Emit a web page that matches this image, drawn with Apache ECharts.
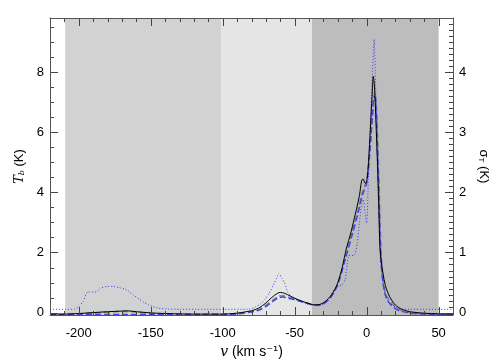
<!DOCTYPE html>
<html>
<head>
<meta charset="utf-8">
<script src="https://cdn.jsdelivr.net/npm/echarts@6/dist/echarts.min.js"></script>
<style>
html, body { margin: 0; padding: 0; background: #fff; }
#chart { width: 504px; height: 360px; }
</style>
</head>
<body>
<div id="chart"></div>
<script>
// velocity ranges of the shaded bands (km/s)
var bandRanges = [[-209.5, -101], [-101, -38], [-38, 50]];

// tick values
var xMajorTicks = [-200, -150, -100, -50, 0, 50];
var xMinorTicks = [-210, -190, -180, -170, -160, -140, -130, -120, -110, -90, -80, -70, -60, -40, -30, -20, -10, 10, 20, 30, 40];
var tbMajorTicks = [0, 2, 4, 6, 8];
var tbMinorTicks = [0.5, 1, 1.5, 2.5, 3, 3.5, 4.5, 5, 5.5, 6.5, 7, 7.5, 8.5, 9, 9.5];
var sigMajorTicks = [0, 1, 2, 3, 4];
var sigMinorTicks = [0.1, 0.2, 0.3, 0.4, 0.5, 0.6, 0.7, 0.8, 0.9, 1.1, 1.2, 1.3, 1.4, 1.5, 1.6, 1.7, 1.8, 1.9, 2.1, 2.2, 2.3, 2.4, 2.5, 2.6, 2.7, 2.8, 2.9, 3.1, 3.2, 3.3, 3.4, 3.5, 3.6, 3.7, 3.8, 3.9, 4.1, 4.2, 4.3, 4.4, 4.5, 4.6, 4.7, 4.8];

// observed Tb (solid black), left axis
var velObs = [-220, -210, -200, -190, -180, -170, -167, -160, -150, -140, -120, -100, -90, -85, -80, -75, -70, -66, -62, -60, -57, -53, -50, -45, -40, -37, -34, -31, -28, -25, -22, -20, -17, -14, -11, -9, -7, -5, -3.5, -2.5, -1, 0, 1, 2, 3, 4, 4.6, 5.5, 6.5, 7.5, 8.3, 9.2, 10, 11.4, 13, 16, 20, 25, 30, 40, 50, 60];
var tbObs = [-0.05, -0.05, -0.03, 0.0, 0.03, 0.05, 0.06, 0.03, -0.01, -0.03, -0.05, -0.05, -0.02, 0.02, 0.06, 0.15, 0.32, 0.5, 0.64, 0.67, 0.64, 0.55, 0.48, 0.38, 0.3, 0.26, 0.26, 0.3, 0.4, 0.55, 0.78, 1.0, 1.5, 2.15, 2.65, 3.05, 3.45, 3.9, 4.38, 4.45, 4.3, 4.35, 4.8, 5.6, 6.5, 7.4, 7.87, 7.5, 6.3, 5.0, 3.8, 2.2, 1.75, 1.3, 0.9, 0.53, 0.25, 0.1, 0.03, -0.02, -0.04, -0.05];

// gray dashed curve, left axis
var velGray = [-220, -200, -185, -175, -168, -160, -150, -120, -100, -90, -80, -75, -70, -65, -61, -58, -55, -50, -45, -40, -36, -33, -30, -25, -20, -15, -10, -6, -3, 0, 2, 4, 5.5, 6.5, 7.5, 8.5, 9.5, 10.5, 12, 14, 18, 22, 30, 40, 60];
var tbGray = [-0.06, -0.04, 0.0, 0.03, 0.04, 0.02, -0.03, -0.06, -0.06, -0.03, 0.03, 0.1, 0.25, 0.42, 0.55, 0.56, 0.52, 0.45, 0.37, 0.3, 0.25, 0.25, 0.3, 0.52, 0.95, 1.8, 2.7, 3.4, 4.0, 4.4, 5.3, 6.6, 7.3, 7.1, 6.0, 4.5, 2.8, 1.6, 0.9, 0.55, 0.28, 0.12, 0.0, -0.04, -0.06];

// blue dashed curve, left axis
var velBlue = [-220, -170, -100, -90, -80, -75, -70, -65, -61, -58, -55, -50, -45, -40, -36, -33, -30, -25, -20, -15, -10, -6, -3, 0, 2, 4, 5.3, 6.3, 7.3, 8.3, 9.3, 10.3, 12, 14, 18, 22, 30, 40, 60];
var tbBlue = [-0.07, -0.06, -0.06, -0.04, 0.02, 0.08, 0.2, 0.38, 0.5, 0.52, 0.48, 0.43, 0.36, 0.29, 0.25, 0.25, 0.29, 0.5, 0.95, 1.75, 2.6, 3.3, 3.9, 4.3, 5.2, 6.5, 7.2, 7.0, 5.8, 4.2, 2.6, 1.5, 0.8, 0.45, 0.2, 0.08, -0.02, -0.05, -0.07];

// sigma_T (blue dotted), right axis
var velSig = [-220, -203, -200, -197, -194, -190, -188, -185, -180, -176, -172, -168, -165, -162, -158, -155, -151.5, -145, -138, -130, -82, -78, -74, -71, -68, -65, -62, -61, -59, -57, -55, -53, -50, -46, -42, -38, -34, -30, -27, -25, -22, -19, -17, -15, -13.5, -12.5, -9, -8, -6.5, -5, -3.5, -2.3, -1, 0, 0.5, 1.1, 2, 3, 4, 5.2, 6, 7, 8, 9, 10, 11.5, 13, 16, 20, 23, 30, 60];
var sigT = [0.055, 0.055, 0.1, 0.185, 0.34, 0.345, 0.34, 0.405, 0.435, 0.435, 0.415, 0.39, 0.35, 0.29, 0.225, 0.175, 0.13, 0.075, 0.06, 0.055, 0.055, 0.085, 0.14, 0.21, 0.31, 0.45, 0.6, 0.655, 0.575, 0.49, 0.35, 0.275, 0.23, 0.19, 0.15, 0.125, 0.11, 0.15, 0.225, 0.28, 0.4, 0.45, 0.46, 0.55, 0.8, 0.95, 0.95, 0.975, 1.15, 1.5, 1.8, 1.88, 1.65, 1.49, 1.65, 2.155, 2.75, 3.4, 4.0, 4.545, 4.0, 3.0, 2.0, 1.25, 0.75, 0.45, 0.3, 0.155, 0.09, 0.06, 0.055, 0.055];

function pairs(xs, ys) {
  var out = [];
  for (var i = 0; i < xs.length; i++) out.push([xs[i], ys[i]]);
  return out;
}
// tick items: [value, 1 for major / 0 for minor]
function tickItems(major, minorVals) {
  return major.map(function (v) { return [v, 1]; }).concat(minorVals.map(function (v) { return [v, 0]; }));
}

var font = "'Liberation Sans', Arial, sans-serif";
var bandColors = ['#d2d2d2', '#e5e5e5', '#bdbdbd'];
var frame = '#555';
var tickColor = '#444';

function seg(x1, y1, x2, y2) {
  return { type: 'line', shape: { x1: x1, y1: y1, x2: x2, y2: y2 }, style: { stroke: tickColor, lineWidth: 1 } };
}

// ticks on bottom and top edges, placed through the x scale
function renderXTick(params, api) {
  var cs = params.coordSys;
  var px = Math.round(api.coord([api.value(0), 0])[0]) + 0.5;
  var len = api.value(1) ? 8 : 4;
  var yb = cs.y + cs.height, yt = cs.y;
  return { type: 'group', children: [seg(px, yb, px, yb - len), seg(px, yt, px, yt + len)] };
}
// ticks on the left edge, placed through the Tb scale
function renderLeftTick(params, api) {
  var cs = params.coordSys;
  var py = Math.round(api.coord([0, api.value(0)])[1]) + 0.5;
  var len = api.value(1) ? 8 : 4;
  return seg(cs.x, py, cs.x + len, py);
}
// ticks on the right edge, placed through the sigma scale
function renderRightTick(params, api) {
  var cs = params.coordSys;
  var py = Math.round(api.coord([0, api.value(0)])[1]) + 0.5;
  var len = api.value(1) ? 8 : 4;
  var xr = cs.x + cs.width;
  return seg(xr, py, xr - len, py);
}

var chart = echarts.init(document.getElementById('chart'));

function line() { return { show: true, onZero: false, lineStyle: { color: frame, width: 1 } }; }

chart.setOption({
  animation: false,
  backgroundColor: '#fff',
  grid: { left: 50, right: 51, top: 18, bottom: 45, outerBoundsMode: 'none' },
  xAxis: [
    {
      type: 'value', position: 'bottom', min: -220, max: 60, z: 10,
      axisLine: line(), axisTick: { show: false }, splitLine: { show: false },
      axisLabel: {
        color: '#000', fontFamily: font, fontSize: 13, margin: 12,
        formatter: function (v) { return v % 50 === 0 ? String(v) : ''; }
      },
      name: '{i|v} (km s{sup|⁻¹})', nameLocation: 'middle', nameGap: 17,
      nameTextStyle: {
        color: '#000', fontFamily: font, fontSize: 14,
        rich: {
          i: { fontFamily: "'DejaVu Serif', serif", fontStyle: 'italic', fontSize: 14, color: '#000' },
          sup: { fontSize: 13, color: '#000', fontFamily: "'DejaVu Sans', sans-serif" }
        }
      }
    },
    {
      type: 'value', position: 'top', min: -220, max: 60, z: 10,
      axisLine: line(), axisTick: { show: false }, splitLine: { show: false },
      axisLabel: { show: false }
    }
  ],
  yAxis: [
    {
      type: 'value', position: 'left', min: -0.08, max: 9.8, z: 10,
      axisLine: line(), axisTick: { show: false }, splitLine: { show: false },
      axisLabel: {
        color: '#000', fontFamily: font, fontSize: 13, margin: 6,
        formatter: function (v) { return Math.abs(v % 2) < 1e-9 ? String(v) : ''; }
      },
      name: '{i|T}{sub|b} (K)', nameLocation: 'middle', nameGap: 17,
      nameTextStyle: {
        color: '#000', fontFamily: font, fontSize: 13,
        rich: {
          i: { fontFamily: "'DejaVu Serif', serif", fontStyle: 'italic', fontSize: 13, color: '#000' },
          sub: { fontSize: 8, verticalAlign: 'bottom', color: '#000', fontFamily: "'DejaVu Serif', serif", fontStyle: 'italic' }
        }
      }
    },
    {
      type: 'value', position: 'right', min: -0.04, max: 4.9, z: 10,
      axisLine: line(), axisTick: { show: false }, splitLine: { show: false },
      axisLabel: {
        color: '#000', fontFamily: font, fontSize: 13, margin: 6,
        formatter: function (v) { return Math.abs(v % 1) < 1e-9 ? String(v) : ''; }
      },
      name: 'σ{sub|T} (K)', nameLocation: 'middle', nameGap: 24, nameRotate: -90,
      nameTextStyle: {
        color: '#000', fontFamily: font, fontSize: 13,
        rich: { sub: { fontSize: 8, verticalAlign: 'bottom', color: '#000', fontFamily: font } }
      }
    }
  ],
  series: [
    {
      name: 'bands', type: 'line', data: [], z: 1, silent: true,
      markArea: {
        silent: true,
        data: bandRanges.map(function (r, i) {
          return [{ xAxis: r[0], itemStyle: { color: bandColors[i] } }, { xAxis: r[1] }];
        })
      }
    },
    {
      name: 'gray', type: 'line', z: 2, showSymbol: false, smooth: 0.3,
      data: pairs(velGray, tbGray),
      lineStyle: { color: '#808080', width: 1.5, type: [6, 3] }
    },
    {
      name: 'blue', type: 'line', z: 3, showSymbol: false, smooth: 0.3,
      data: pairs(velBlue, tbBlue),
      lineStyle: { color: '#4646e8', width: 1.5, type: [6, 3] }
    },
    {
      name: 'sigma', type: 'line', z: 4, yAxisIndex: 1, showSymbol: false, smooth: 0.2,
      data: pairs(velSig, sigT),
      lineStyle: { color: '#3a3aff', width: 1, type: [1, 2] }
    },
    {
      name: 'Tb', type: 'line', z: 5, showSymbol: false, smooth: 0.3,
      data: pairs(velObs, tbObs),
      lineStyle: { color: '#000', width: 1 }
    },
    {
      name: 'xTicks', type: 'custom', z: 8, silent: true, clip: false,
      encode: { x: 0 }, renderItem: renderXTick,
      data: tickItems(xMajorTicks, xMinorTicks)
    },
    {
      name: 'tbTicks', type: 'custom', z: 8, silent: true, clip: false,
      encode: { y: 0 }, renderItem: renderLeftTick,
      data: tickItems(tbMajorTicks, tbMinorTicks)
    },
    {
      name: 'sigTicks', type: 'custom', z: 8, silent: true, clip: false, yAxisIndex: 1,
      encode: { y: 0 }, renderItem: renderRightTick,
      data: tickItems(sigMajorTicks, sigMinorTicks)
    }
  ]
});
</script>
</body>
</html>
